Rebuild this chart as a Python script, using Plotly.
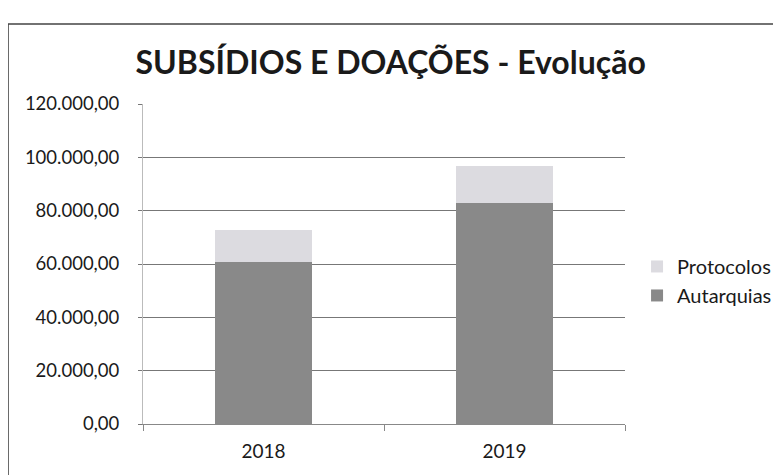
import plotly.graph_objs as go

anos = ['2018', '2019']
autarquias = [60800, 83000]
protocolos = [11900, 13600]

font_family = "Lato, 'Open Sans', sans-serif"

trace = []
trace.append(go.Bar(x=anos, y=autarquias, name='Autarquias',
                    marker=dict(color='#898989', line=dict(width=0))))
trace.append(go.Bar(x=anos, y=protocolos, name='Protocolos',
                    marker=dict(color='#dcdbe0', line=dict(width=0))))

layout = go.Layout(
    title=dict(text='<b>SUBSÍDIOS E DOAÇÕES - Evolução</b>', x=0.49, xanchor='center',
               y=0.885, yanchor='middle', font=dict(size=32, color='#1a1a1a', family=font_family)),
    barmode='stack', bargap=0.6,
    separators=',.',
    width=781, height=475,
    margin=dict(l=135, r=164, t=96, b=59),
    paper_bgcolor='white', plot_bgcolor='white',
    font=dict(family=font_family, color='#1a1a1a', size=18),
    xaxis=dict(type='category', showline=True, linecolor='#888888', linewidth=1,
               ticks='outside', tickson='boundaries', ticklen=6, tickcolor='#888888',
               ticklabelstandoff=10, tickfont=dict(size=19), automargin=False),
    yaxis=dict(range=[0, 120000], dtick=20000, tickformat=',.2f',
               showgrid=True, gridcolor='#777777', gridwidth=1,
               showline=True, linecolor='#bbbbbb', linewidth=1,
               zeroline=False, ticks='outside', ticklen=4, tickcolor='#777777',
               ticklabelstandoff=15, tickfont=dict(size=18.5), automargin=False),
    showlegend=True,
    legend=dict(x=1.025, y=0.447, xanchor='left', yanchor='middle', traceorder='reversed',
                font=dict(size=20), itemwidth=30, tracegroupgap=4, bgcolor='rgba(0,0,0,0)'),
    shapes=[dict(type='rect', xref='paper', yref='paper', x0=-0.28, x1=1.4, y0=-0.3, y1=1.25,
                 line=dict(color='#444444', width=1.5))],
)

fig = go.Figure(data=trace, layout=layout)
fig.write_html("out.html")
